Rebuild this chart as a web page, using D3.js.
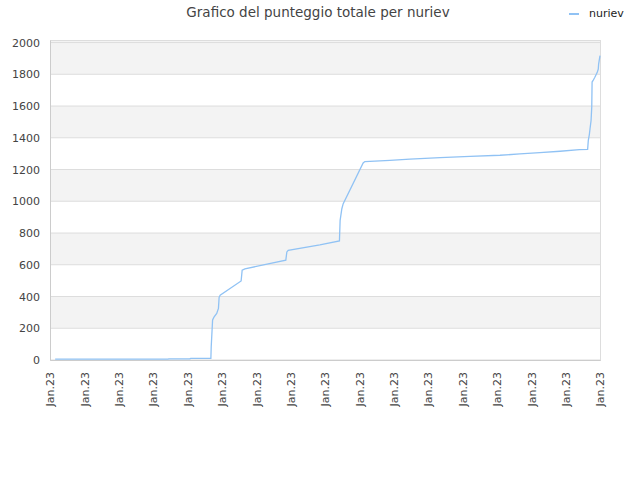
<!DOCTYPE html>
<html>
<head>
<meta charset="utf-8">
<script src="https://cdn.jsdelivr.net/npm/d3@7"></script>
<style>
  body { margin: 0; background: #fff; }
  text { font-family: "DejaVu Sans", sans-serif; }
</style>
</head>
<body>
<div id="chart"></div>
<script>
// chart data (x = position along the 17 date ticks)
var title = 'Grafico del punteggio totale per nuriev';
var seriesName = 'nuriev';
var tickLabels = ['Jan.23','Jan.23','Jan.23','Jan.23','Jan.23','Jan.23','Jan.23','Jan.23','Jan.23',
                  'Jan.23','Jan.23','Jan.23','Jan.23','Jan.23','Jan.23','Jan.23','Jan.23'];
var xValues = [0.15, 3.43, 3.46, 4.07, 4.10, 4.68, 4.69, 4.73, 4.77, 4.85, 4.90, 4.92, 4.95,
               5.56, 5.59, 5.67, 6.86, 6.89, 6.93, 7.85, 8.42, 8.44, 8.49, 8.53, 9.11, 9.16,
               9.89, 10.47, 11.35, 12.22, 13.09, 13.67, 14.25, 14.84, 15.40, 15.64, 15.66,
               15.69, 15.71, 15.74, 15.76, 15.77, 15.80, 15.85, 15.92, 15.95, 15.96, 16.0];
var scores = [5, 5, 7, 8, 10, 10, 84, 252, 270, 293, 325, 395, 408,
              498, 566, 574, 629, 681, 691, 725, 750, 880, 953, 985, 1241, 1250,
              1258, 1265, 1275, 1283, 1290, 1298, 1306, 1315, 1325, 1327, 1384,
              1420, 1457, 1509, 1593, 1751, 1761, 1781, 1812, 1833, 1864, 1918];
var yTicks = [0, 200, 400, 600, 800, 1000, 1200, 1400, 1600, 1800, 2000];

var width = 640, height = 480;
var margin = {top: 40, right: 40, bottom: 120, left: 50};

var svg = d3.select('#chart').append('svg')
  .attr('width', width)
  .attr('height', height);

var x = d3.scaleLinear().domain([0, 16]).range([margin.left, width - margin.right]);
var y = d3.scaleLinear().domain([0, 2016]).range([height - margin.bottom, margin.top]);

// alternating bands
var bands = d3.pairs(yTicks);
svg.selectAll('rect.band')
  .data(bands)
  .enter().append('rect')
    .attr('class', 'band')
    .attr('x', x(0))
    .attr('width', x(16) - x(0))
    .attr('y', function(d){ return y(d[1]); })
    .attr('height', function(d){ return y(d[0]) - y(d[1]); })
    .attr('fill', function(d, i){ return i % 2 ? '#f3f3f3' : '#ffffff'; });

// top strip above 2000
svg.append('rect')
  .attr('x', x(0)).attr('width', x(16) - x(0))
  .attr('y', y(2016)).attr('height', y(2000) - y(2016))
  .attr('fill', '#f3f3f3');

// grid lines
svg.selectAll('line.grid')
  .data(yTicks)
  .enter().append('line')
    .attr('class', 'grid')
    .attr('x1', x(0)).attr('x2', x(16))
    .attr('y1', function(d){ return y(d); })
    .attr('y2', function(d){ return y(d); })
    .attr('stroke', '#dddddd');

// frame
svg.append('rect')
  .attr('x', x(0) + 0.5).attr('y', y(2016) + 0.5)
  .attr('width', x(16) - x(0)).attr('height', y(0) - y(2016))
  .attr('fill', 'none')
  .attr('stroke', '#dddddd');

// y axis
var yAxis = svg.append('g')
  .attr('transform', 'translate(' + x(0) + ',0)')
  .call(d3.axisLeft(y).tickValues(yTicks).tickSize(0).tickPadding(10)
    .tickFormat(d3.format('d')));
yAxis.select('.domain').attr('stroke', '#cccccc');
yAxis.selectAll('text').attr('font-size', 11).attr('fill', '#444')
  .attr('font-family', '"DejaVu Sans", sans-serif');

// x axis
var xAxis = svg.append('g')
  .attr('transform', 'translate(0,' + y(0) + ')')
  .call(d3.axisBottom(x).tickValues(d3.range(17)).tickSize(0)
    .tickFormat(function(d){ return tickLabels[d]; }));
xAxis.select('.domain').attr('stroke', '#cccccc');
xAxis.selectAll('text')
  .attr('font-size', 11).attr('fill', '#444')
  .attr('font-family', '"DejaVu Sans", sans-serif')
  .attr('text-anchor', 'end')
  .attr('dy', '0.35em')
  .attr('transform', 'translate(0,12) rotate(-90)')
  .attr('x', 0).attr('y', 0);

// line
var line = d3.line()
  .x(function(d, i){ return x(xValues[i]); })
  .y(function(d){ return y(d); });

svg.append('path')
  .datum(scores)
  .attr('d', line)
  .attr('fill', 'none')
  .attr('stroke', '#90c2f4')
  .attr('stroke-width', 1.3);

// title
svg.append('text')
  .attr('x', 318).attr('y', 17)
  .attr('text-anchor', 'middle')
  .attr('font-size', 13.5)
  .attr('fill', '#444')
  .text(title);

// legend
svg.append('line')
  .attr('x1', 569).attr('x2', 579)
  .attr('y1', 14).attr('y2', 14)
  .attr('stroke', '#90c2f4').attr('stroke-width', 2);
svg.append('text')
  .attr('x', 589).attr('y', 17)
  .attr('font-size', 11)
  .attr('fill', '#222')
  .text(seriesName);
</script>
</body>
</html>
